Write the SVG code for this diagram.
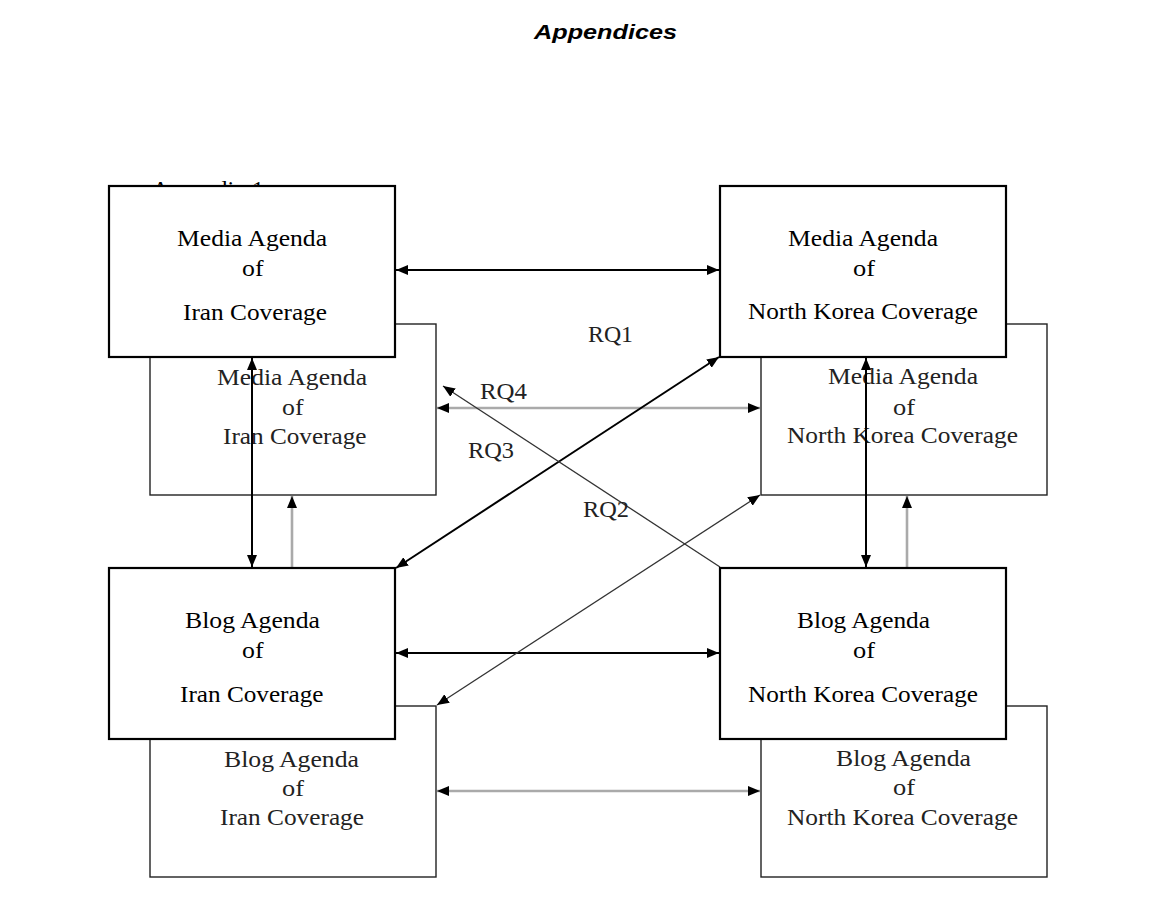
<svg xmlns="http://www.w3.org/2000/svg" width="1172" height="917" viewBox="0 0 1172 917">
<style>
  .bg { fill: #ffffff; }
  .front { fill: #ffffff; stroke: #000000; stroke-width: 2.2; }
  .back { fill: #ffffff; stroke: #222222; stroke-width: 1.4; }
  .t { font-family: "Liberation Serif", "Times New Roman", serif; font-size: 23px; fill: #000000; }
  .tb { font-family: "Liberation Serif", "Times New Roman", serif; font-size: 23px; fill: #222222; }
  .rq { font-family: "Liberation Serif", "Times New Roman", serif; font-size: 23px; fill: #222222; }
  .title { font-family: "Liberation Sans", Arial, sans-serif; font-size: 21px; font-weight: bold; font-style: italic; fill: #000000; }
  .blk { fill: none; stroke: #000000; stroke-width: 2; }
  .gry { fill: none; stroke: #aaaaaa; stroke-width: 2.6; }
  .thin { fill: none; stroke: #333333; stroke-width: 1.3; }
</style>
<defs>
  <marker id="ah" markerUnits="userSpaceOnUse" markerWidth="12" markerHeight="10" refX="12" refY="5" orient="auto-start-reverse">
    <path d="M0,0 L12,5 L0,10 z" fill="#000000"/>
  </marker>
</defs>
<rect class="bg" x="0" y="0" width="1172" height="917"/>
<text class="title" x="534" y="39" textLength="143" lengthAdjust="spacingAndGlyphs">Appendices</text>
<text class="t" x="152" y="197" textLength="112" lengthAdjust="spacingAndGlyphs">Appendix 1</text>

<g id="back-media-iran">
  <rect class="back" x="150" y="324" width="286" height="171"/>
  <text class="tb" x="217" y="385" textLength="150" lengthAdjust="spacingAndGlyphs">Media Agenda</text>
  <text class="tb" x="282" y="415" textLength="21.5" lengthAdjust="spacingAndGlyphs">of</text>
  <text class="tb" x="223" y="444" textLength="143.5" lengthAdjust="spacingAndGlyphs">Iran Coverage</text>
</g>
<g id="back-media-nk">
  <rect class="back" x="761" y="324" width="286" height="171"/>
  <text class="tb" x="828" y="384" textLength="150" lengthAdjust="spacingAndGlyphs">Media Agenda</text>
  <text class="tb" x="893" y="415" textLength="22" lengthAdjust="spacingAndGlyphs">of</text>
  <text class="tb" x="787" y="443" textLength="231" lengthAdjust="spacingAndGlyphs">North Korea Coverage</text>
</g>
<g id="back-blog-iran">
  <rect class="back" x="150" y="706" width="286" height="171"/>
  <text class="tb" x="224" y="767" textLength="135" lengthAdjust="spacingAndGlyphs">Blog Agenda</text>
  <text class="tb" x="282" y="796" textLength="22" lengthAdjust="spacingAndGlyphs">of</text>
  <text class="tb" x="220" y="825" textLength="144" lengthAdjust="spacingAndGlyphs">Iran Coverage</text>
</g>
<g id="back-blog-nk">
  <rect class="back" x="761" y="706" width="286" height="171"/>
  <text class="tb" x="836" y="766" textLength="135" lengthAdjust="spacingAndGlyphs">Blog Agenda</text>
  <text class="tb" x="893" y="795" textLength="22" lengthAdjust="spacingAndGlyphs">of</text>
  <text class="tb" x="787" y="825" textLength="231" lengthAdjust="spacingAndGlyphs">North Korea Coverage</text>
</g>

<g id="connectors">
  <line class="blk" x1="396" y1="270" x2="719" y2="270" marker-start="url(#ah)" marker-end="url(#ah)"/>
  <line class="blk" x1="396" y1="653" x2="719" y2="653" marker-start="url(#ah)" marker-end="url(#ah)"/>
  <line class="gry" x1="437" y1="408" x2="760" y2="408" marker-start="url(#ah)" marker-end="url(#ah)"/>
  <line class="gry" x1="437" y1="791" x2="760" y2="791" marker-start="url(#ah)" marker-end="url(#ah)"/>
  <line class="blk" x1="252" y1="358" x2="252" y2="567" marker-start="url(#ah)" marker-end="url(#ah)"/>
  <line class="blk" x1="866" y1="358" x2="866" y2="567" marker-start="url(#ah)" marker-end="url(#ah)"/>
  <line class="gry" x1="292" y1="567" x2="292" y2="496" marker-end="url(#ah)"/>
  <line class="gry" x1="907" y1="567" x2="907" y2="496" marker-end="url(#ah)"/>
  <line class="blk" x1="396" y1="568" x2="719" y2="357" marker-start="url(#ah)" marker-end="url(#ah)"/>
  <line class="thin" x1="437" y1="705" x2="760" y2="495" marker-start="url(#ah)" marker-end="url(#ah)"/>
  <line class="thin" x1="720" y1="567" x2="443" y2="386" marker-end="url(#ah)"/>
  <text class="rq" x="588" y="342" textLength="45" lengthAdjust="spacingAndGlyphs">RQ1</text>
  <text class="rq" x="480" y="399" textLength="47" lengthAdjust="spacingAndGlyphs">RQ4</text>
  <text class="rq" x="468" y="458" textLength="46" lengthAdjust="spacingAndGlyphs">RQ3</text>
  <text class="rq" x="583" y="517" textLength="46" lengthAdjust="spacingAndGlyphs">RQ2</text>
</g>

<g id="media-iran">
  <rect class="front" x="109" y="186" width="286" height="171"/>
  <text class="t" x="177" y="246" textLength="150" lengthAdjust="spacingAndGlyphs">Media Agenda</text>
  <text class="t" x="242" y="276" textLength="21.5" lengthAdjust="spacingAndGlyphs">of</text>
  <text class="t" x="183" y="320" textLength="144" lengthAdjust="spacingAndGlyphs">Iran Coverage</text>
</g>
<g id="media-nk">
  <rect class="front" x="720" y="186" width="286" height="171"/>
  <text class="t" x="788" y="246" textLength="150" lengthAdjust="spacingAndGlyphs">Media Agenda</text>
  <text class="t" x="853" y="276" textLength="22" lengthAdjust="spacingAndGlyphs">of</text>
  <text class="t" x="748" y="319" textLength="230" lengthAdjust="spacingAndGlyphs">North Korea Coverage</text>
</g>
<g id="blog-iran">
  <rect class="front" x="109" y="568" width="286" height="171"/>
  <text class="t" x="185" y="628" textLength="135" lengthAdjust="spacingAndGlyphs">Blog Agenda</text>
  <text class="t" x="242" y="658" textLength="21.5" lengthAdjust="spacingAndGlyphs">of</text>
  <text class="t" x="180" y="702" textLength="143.5" lengthAdjust="spacingAndGlyphs">Iran Coverage</text>
</g>
<g id="blog-nk">
  <rect class="front" x="720" y="568" width="286" height="171"/>
  <text class="t" x="797" y="628" textLength="133" lengthAdjust="spacingAndGlyphs">Blog Agenda</text>
  <text class="t" x="853" y="658" textLength="22" lengthAdjust="spacingAndGlyphs">of</text>
  <text class="t" x="748" y="702" textLength="230" lengthAdjust="spacingAndGlyphs">North Korea Coverage</text>
</g>
</svg>
